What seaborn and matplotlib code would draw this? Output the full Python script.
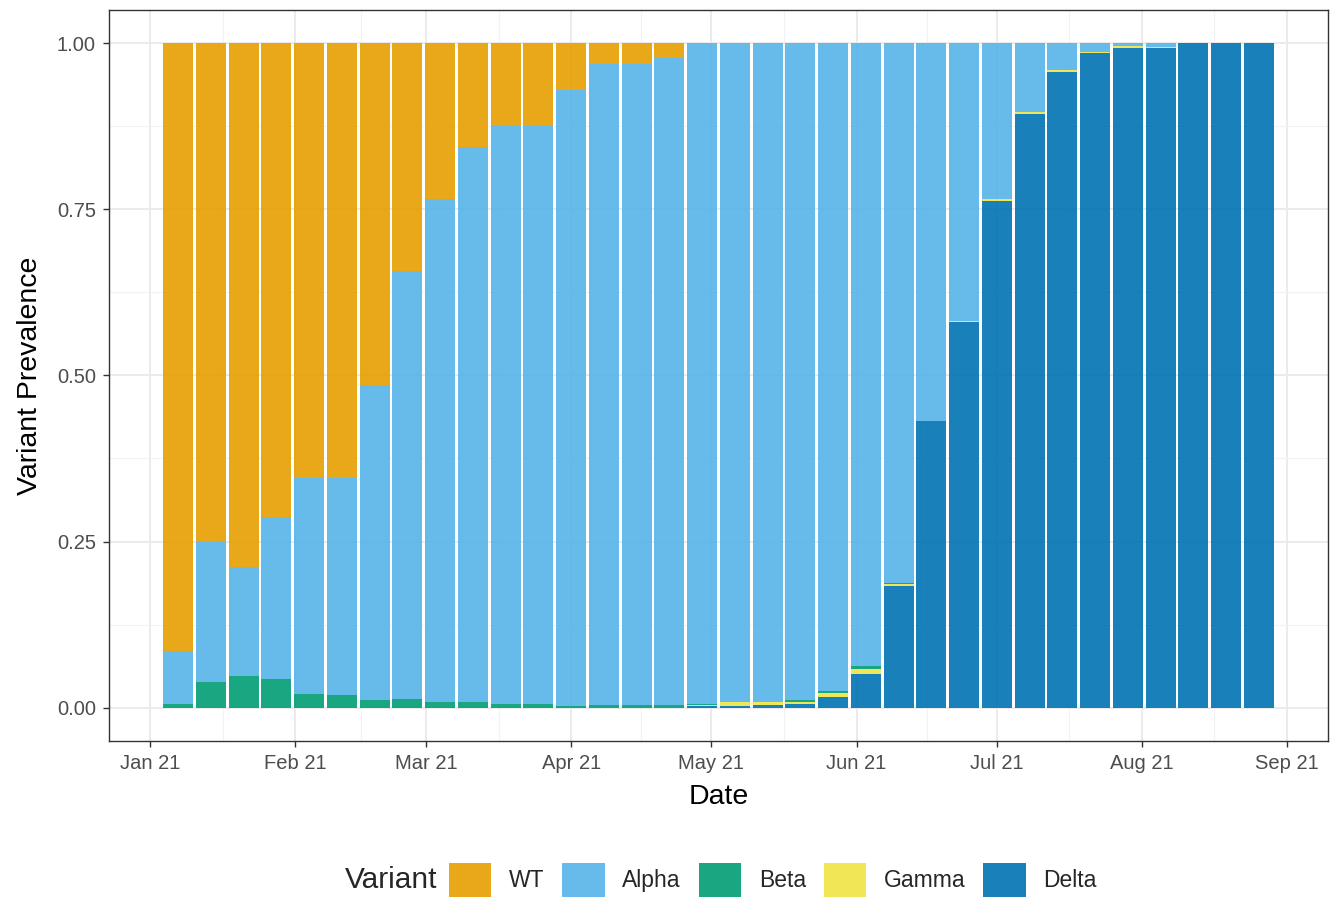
import numpy as np
import pandas as pd
import matplotlib
matplotlib.use("Agg")
import matplotlib.pyplot as plt
import matplotlib.dates as mdates
from matplotlib.patches import Patch
import seaborn as sns

# weekly sample dates (bar centres)
weeks = pd.date_range("2021-01-07", periods=34, freq="7D")

variants = ["WT", "Alpha", "Beta", "Gamma", "Delta"]
palette = {"WT": "#E69F00", "Alpha": "#56B4E9", "Beta": "#009E73",
           "Gamma": "#F0E442", "Delta": "#0072B2"}

wt = [0.914, 0.750, 0.789, 0.713, 0.654, 0.655, 0.515, 0.343, 0.234, 0.157,
      0.125, 0.125, 0.070, 0.032, 0.031, 0.022, 0, 0, 0, 0,
      0, 0, 0, 0, 0, 0, 0, 0, 0, 0,
      0, 0, 0, 0]
alpha = [0.081, 0.212, 0.164, 0.244, 0.325, 0.326, 0.474, 0.644, 0.757, 0.835,
         0.869, 0.870, 0.927, 0.964, 0.965, 0.974, 0.995, 0.991, 0.991, 0.988,
         0.975, 0.938, 0.813, 0.568, 0.418, 0.235, 0.104, 0.041, 0.014, 0.005,
         0.006, 0.0, 0.0, 0.0]
beta = [0.005, 0.038, 0.047, 0.043, 0.021, 0.019, 0.011, 0.013, 0.009, 0.008,
        0.006, 0.005, 0.003, 0.004, 0.004, 0.004, 0.001, 0.001, 0.001, 0.003,
        0.003, 0.0035, 0.001, 0, 0, 0, 0, 0, 0, 0,
        0, 0, 0, 0]
gamma = [0, 0, 0, 0, 0, 0, 0, 0, 0, 0,
         0, 0, 0, 0, 0, 0, 0.002, 0.005, 0.004, 0.003,
         0.006, 0.0075, 0.003, 0.001, 0.002, 0.003, 0.003, 0.002, 0.001, 0.002,
         0.001, 0, 0, 0]
delta = [0, 0, 0, 0, 0, 0, 0, 0, 0, 0,
         0, 0, 0, 0, 0, 0, 0.002, 0.003, 0.004, 0.006,
         0.016, 0.051, 0.183, 0.431, 0.580, 0.762, 0.893, 0.957, 0.985, 0.993,
         0.993, 1.0, 1.0, 1.0]

series = {"WT": wt, "Alpha": alpha, "Beta": beta, "Gamma": gamma, "Delta": delta}
rows = []
for v in variants:
    for d, p in zip(weeks, series[v]):
        rows.append({"date": mdates.date2num(d), "variant": v, "prop": p})
df = pd.DataFrame(rows)

sns.set_theme(style="whitegrid")
plt.rcParams["font.family"] = ["Liberation Sans", "DejaVu Sans"]

fig = plt.figure(figsize=(13.37, 8.97), dpi=100)
ax = fig.add_axes([0.0815, 0.174, 0.9118, 0.815])

# stacked weekly bars (last hue level at the bottom)
start = mdates.date2num(weeks[0]) - 3.5
end = mdates.date2num(weeks[-1]) + 3.5
sns.histplot(data=df, x="date", weights="prop", hue="variant", hue_order=variants,
             palette=palette, multiple="stack", binwidth=7, binrange=(start, end),
             shrink=0.92, alpha=0.9, linewidth=0, legend=False, ax=ax)

ax.set_xlim(mdates.date2num(pd.Timestamp("2020-12-23 05:00")),
            mdates.date2num(pd.Timestamp("2021-09-09 19:00")))
ax.set_ylim(-0.05, 1.05)

months = pd.date_range("2021-01-01", "2021-09-01", freq="MS")
mnum = mdates.date2num(months)
ax.set_xticks(mnum)
ax.set_xticklabels([m.strftime("%b %y") for m in months])
ax.set_xticks((mnum[:-1] + mnum[1:]) / 2, minor=True)
ax.set_yticks([0, 0.25, 0.5, 0.75, 1.0])
ax.set_yticklabels(["0.00", "0.25", "0.50", "0.75", "1.00"])
ax.set_yticks([0.125, 0.375, 0.625, 0.875], minor=True)

ax.set_axisbelow(True)
ax.grid(which="major", color="#EBEBEB", linewidth=1.4)
ax.grid(which="minor", color="#F2F2F2", linewidth=0.8)
ax.set_facecolor("white")
for s in ax.spines.values():
    s.set_color("#333333")
    s.set_linewidth(1.0)

ax.tick_params(axis="both", which="major", length=4.5, width=1, color="#333333",
               labelsize=14.5, labelcolor="#4D4D4D", pad=5, bottom=True, left=True)
ax.tick_params(axis="both", which="minor", length=0)

ax.set_xlabel("Date", fontsize=20.5, color="black", labelpad=8)
ax.set_ylabel("Variant Prevalence", fontsize=20.5, color="black", labelpad=10)

handles = [Patch(facecolor=palette[v], alpha=0.9, edgecolor="none") for v in variants]
fig.legend(handles, variants, loc="center", bbox_to_anchor=(0.578, 0.019), ncol=5,
           frameon=False, fontsize=16.5, handlelength=1.85, handleheight=1.85,
           handletextpad=0.77, columnspacing=0.78, borderpad=0)
fig.text(0.258, 0.019, "Variant", fontsize=21.5, ha="left", va="center")

fig.savefig("out.png", dpi=100)
